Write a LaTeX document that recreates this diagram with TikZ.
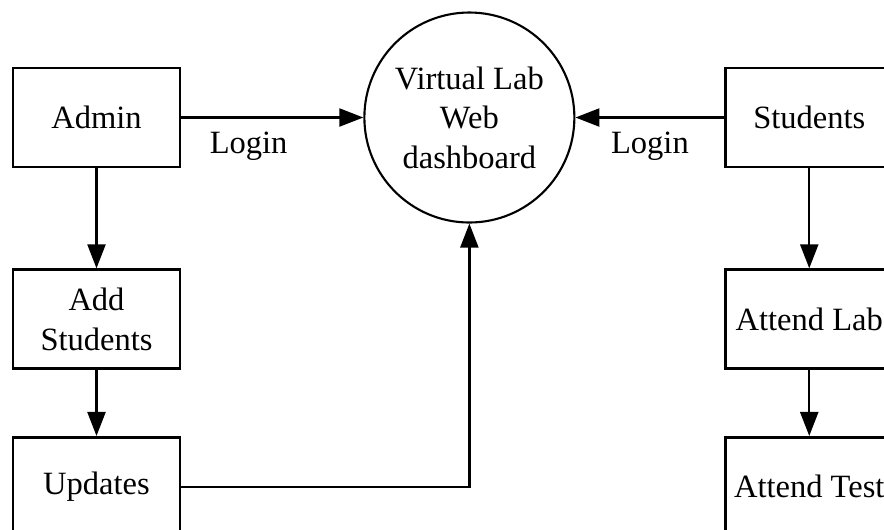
\documentclass[tikz,border=0pt]{standalone}
\usepackage{fontspec}
\setmainfont{Liberation Serif}
\usepackage{tikz}
\usetikzlibrary{positioning,arrows.meta}

\begin{document}
\begin{tikzpicture}[every node/.style={font=\fontsize{18.5pt}{22.5pt}\selectfont, align=center},
  box/.style={draw, line width=1.5pt, minimum width=3.34cm, minimum height=1.98cm, inner sep=2pt},
  hub/.style={draw, circle, line width=1.2pt, minimum size=4.2cm, inner sep=0pt},
  flow/.style={-{Triangle[length=0.48cm, width=0.36cm]}, line width=1.3pt}]
  \useasboundingbox (0,0) rectangle (17.68,-10.58);
  \clip (0,0) rectangle (17.68,-10.58);
  \node[box] (admin) at (1.93,-2.35) {Admin};
  \node[hub, right=3.64cm of admin] (web) {Virtual Lab\\Web\\dashboard};
  \node[box, right=2.98cm of web] (students) {Students};
  \node[box, below=2cm of admin] (addst) {Add\\Students};
  \node[box, below=1.32cm of addst] (upd) {Updates};
  \node[box, below=2cm of students] (lab) {Attend Lab};
  \node[box, below=1.32cm of lab] (test) {Attend Test};
  \draw[flow] (admin) -- node[below=4pt, pos=0.37]{Login} (web);
  \draw[flow] (students) -- node[below=4pt]{Login} (web);
  \draw[flow] (admin) -- (addst);
  \draw[flow] (addst) -- (upd);
  \draw[flow] (upd) -| (web);
  \draw[flow] (students) -- (lab);
  \draw[flow] (lab) -- (test);
\end{tikzpicture}
\end{document}
